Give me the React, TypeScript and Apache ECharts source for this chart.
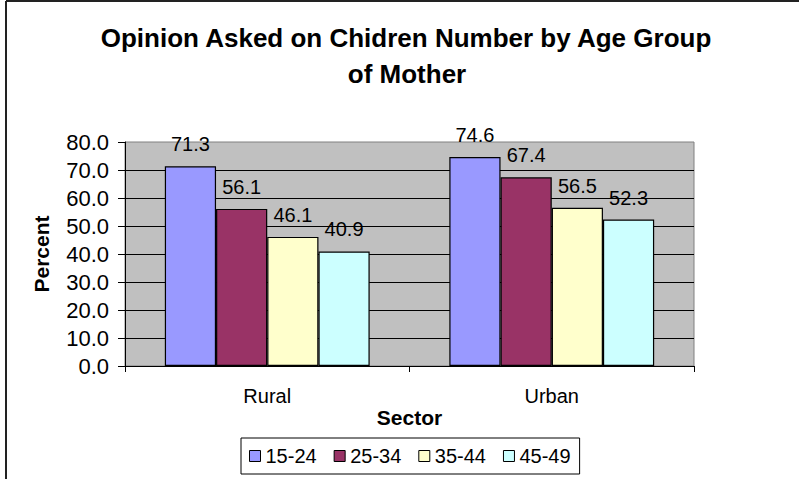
import React, { useEffect, useRef } from "react";
import * as echarts from "echarts";

const titleLines = ["Opinion Asked on Chidren Number by Age Group", "of Mother"];
const categories = ["Rural", "Urban"];
const seriesNames = ["15-24", "25-34", "35-44", "45-49"];
const values15_24 = [71.3, 74.6];
const values25_34 = [56.1, 67.4];
const values35_44 = [46.1, 56.5];
const values45_49 = [40.9, 52.3];
const colors = ["#9999FF", "#993366", "#FFFFCC", "#CCFFFF"];
const yMin = 0;
const yMax = 80;
const yInterval = 10;

const FONT = '"Liberation Sans", Arial, sans-serif';

export default function App() {
  const ref = useRef<HTMLDivElement>(null);
  useEffect(() => {
    if (!ref.current) return;
    const chart = echarts.init(ref.current, undefined, { renderer: "svg" });
    const allValues = [values15_24, values25_34, values35_44, values45_49];
    chart.setOption({
      animation: false,
      backgroundColor: "#ffffff",
      textStyle: { fontFamily: FONT },
      graphic: [
        { type: "line", shape: { x1: 6, y1: 1, x2: 799, y2: 1 }, style: { stroke: "#222", lineWidth: 2 } },
        { type: "line", shape: { x1: 6, y1: 1, x2: 6, y2: 479 }, style: { stroke: "#222", lineWidth: 2 } },
        {
          type: "text",
          x: 406,
          y: 38,
          style: { text: titleLines[0], fill: "#000", fontSize: 26, fontWeight: "bold", fontFamily: FONT, align: "center", verticalAlign: "middle" },
        },
        {
          type: "text",
          x: 407,
          y: 74,
          style: { text: titleLines[1], fill: "#000", fontSize: 26, fontWeight: "bold", fontFamily: FONT, align: "center", verticalAlign: "middle" },
        },
      ],
      grid: {
        left: 125,
        right: 105,
        top: 142,
        bottom: 113,
        show: true,
        backgroundColor: "#C0C0C0",
        borderColor: "#808080",
        borderWidth: 1,
      },
      legend: {
        left: 241,
        top: 438,
        padding: [8, 9, 8, 8],
        itemGap: 17,
        itemWidth: 11,
        itemHeight: 11,
        borderColor: "#000",
        borderWidth: 1,
        icon: "rect",
        textStyle: { fontSize: 20, color: "#000", fontFamily: FONT },
        itemStyle: { borderColor: "#000", borderWidth: 1 },
        data: seriesNames,
      },
      xAxis: {
        type: "category",
        data: categories,
        name: "Sector",
        nameLocation: "middle",
        nameGap: 33,
        nameTextStyle: { fontSize: 21, fontWeight: "bold", color: "#000", fontFamily: FONT },
        axisLine: { show: true, lineStyle: { color: "#000", width: 1 } },
        axisTick: { show: true, length: 6, lineStyle: { color: "#000" } },
        axisLabel: { fontSize: 20, color: "#000", margin: 20, fontFamily: FONT },
        splitLine: { show: false },
      },
      yAxis: {
        type: "value",
        min: yMin,
        max: yMax,
        interval: yInterval,
        name: "Percent",
        nameLocation: "middle",
        nameRotate: 90,
        nameGap: 73,
        nameTextStyle: { fontSize: 21, fontWeight: "bold", color: "#000", fontFamily: FONT },
        axisLine: { show: true, lineStyle: { color: "#000", width: 1 } },
        axisTick: { show: true, length: 7, lineStyle: { color: "#000" } },
        axisLabel: { fontSize: 22, color: "#000", margin: 16, fontFamily: FONT, formatter: (v: number) => v.toFixed(1) },
        splitLine: { show: true, showMaxLine: false, lineStyle: { color: "#000", width: 1 } },
      },
      series: seriesNames.map((name, i) => ({
        name,
        type: "bar",
        data: allValues[i],
        barGap: "0%",
        barCategoryGap: "28%",
        itemStyle: { color: colors[i], borderColor: "#000", borderWidth: 1.2 },
        label: {
          show: true,
          position: "top",
          distance: 12,
          fontSize: 20,
          color: "#000",
          fontFamily: FONT,
          formatter: (p: any) => Number(p.value).toFixed(1),
        },
      })),
    });
    return () => chart.dispose();
  }, []);
  return <div ref={ref} style={{ width: 799, height: 479, position: "absolute", left: 0, top: 0 }} />;
}
